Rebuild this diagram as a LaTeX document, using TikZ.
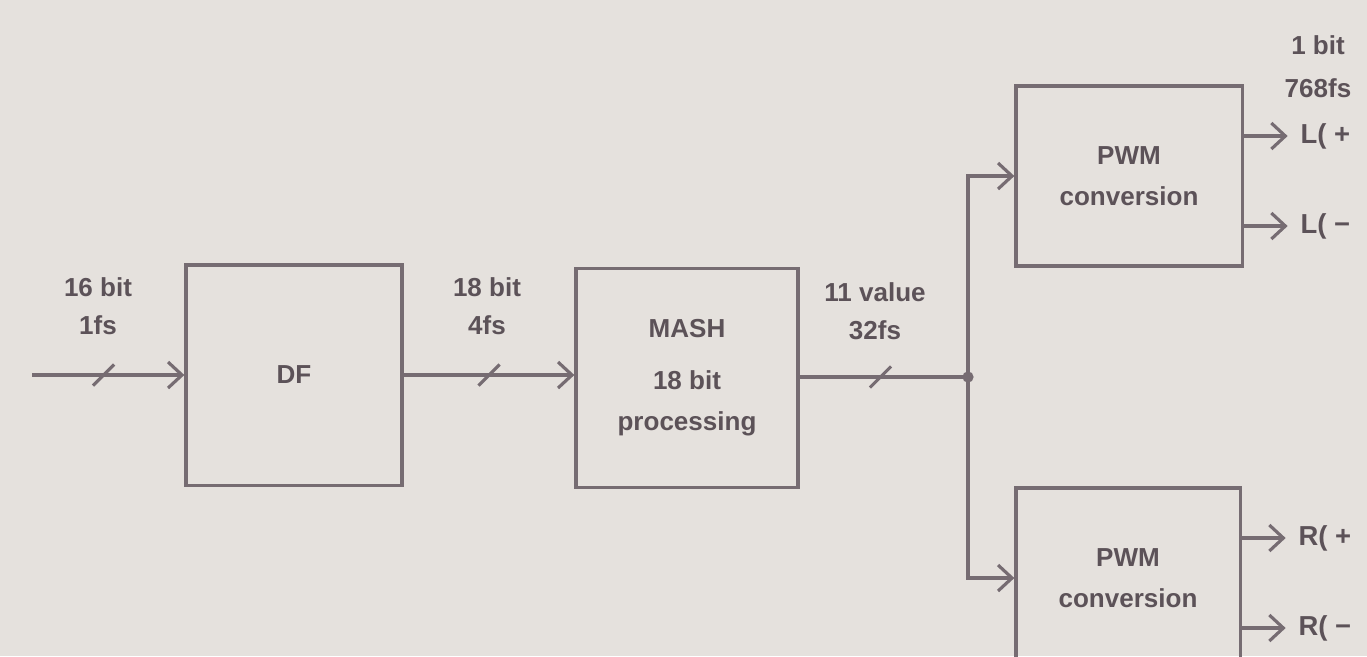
\documentclass[tikz,border=0pt]{standalone}
\usepackage{fontspec}
\setmainfont{Liberation Sans}
\usepackage{tikz}
\usetikzlibrary{
  arrows.meta,
  positioning,
  calc,
  decorations.markings
}
\definecolor{paper}{RGB}{229,225,221}
\definecolor{ink}{RGB}{118,108,114}
\definecolor{txt}{RGB}{92,82,88}

\begin{document}
\begin{tikzpicture}[x=0.01cm, y=-0.01cm,
  block/.style={draw=ink, line width=0.9pt, inner sep=0pt, align=center,
                text=txt, font=\fontsize{7.4}{11.7}\selectfont\bfseries},
  lbl/.style={text=txt, align=center, font=\fontsize{7.4}{10.8}\selectfont\bfseries},
  outlbl/.style={text=txt, anchor=west, inner sep=3.5pt,
                 font=\fontsize{7.8}{9}\selectfont\bfseries},
  wire/.style={draw=ink, line width=0.9pt},
  sig/.style={wire, -{Straight Barb[length=1.4mm, width=2.6mm]}},
  bus/.style={postaction={decorate}, decoration={markings,
              mark=at position #1 with {\draw[ink, line width=0.9pt, -] (-3pt,-3pt) -- (3pt,3pt);}}}
]
\fill[paper] (0,0) rectangle (1367,656);
\useasboundingbox (0,0) rectangle (1367,656);

% blocks
\node[block, minimum width=2.16cm, minimum height=2.2cm] (df) at (294,375) {DF};
\node[block, minimum width=2.22cm, minimum height=2.19cm] (mash) at (687,378)
  {MASH\\[3pt]18 bit\\processing};
\node[block, minimum width=2.26cm, minimum height=1.8cm] (pwmL) at (1129,176) {PWM\\conversion};
\node[block, minimum width=2.24cm, minimum height=1.8cm] (pwmR) at (1128,578) {PWM\\conversion};

% word size / rate
\node[lbl] (inlbl) at (98,306) {16 bit\\1fs};
\node[lbl] (dflbl) at (487,306) {18 bit\\4fs};
\node[lbl] (mashlbl) at (875,311) {11 value\\32fs};
\node[lbl, font=\fontsize{7.4}{12.2}\selectfont\bfseries] (pwmlbl) at (1318,67) {1 bit\\768fs};

% signal path
\coordinate (in) at (32,375);
\coordinate (j) at (968,377);
\draw[sig, bus=0.47] (in) -- (df.west);
\draw[sig, bus=0.5] (df.east) -- (df.east -| mash.west);
\draw[wire, bus=0.48] (mash.east |- j) -- (j);
\fill[ink] (j) circle (1.6pt);
\draw[sig] (j) |- (pwmL.west);
\draw[sig] (j) |- (pwmR.west);

% outputs
\foreach \b/\s in {pwmL/L, pwmR/R}{
  \node[outlbl] (\b-p) at ($(\b.east)+(44,-40)$) {\s( +};
  \node[outlbl] (\b-m) at ($(\b.east)+(44,50)$) {\s( −};
  \draw[sig] (\b.east |- \b-p.west) -- (\b-p.west);
  \draw[sig] (\b.east |- \b-m.west) -- (\b-m.west);
}
\end{tikzpicture}
\end{document}
